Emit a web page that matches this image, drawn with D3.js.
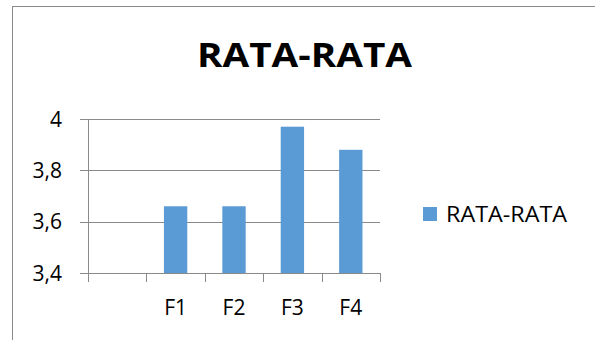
<!DOCTYPE html>
<html>
<head>
<meta charset="utf-8">
<script src="https://cdn.jsdelivr.net/npm/d3@7"></script>
<style>
  html, body { margin: 0; padding: 0; background: #fff; }
  svg { display: block; }
  text { font-family: "Open Sans", "Noto Sans", sans-serif; fill: #000; }
</style>
</head>
<body>
<script>
const categories = ["", "F1", "F2", "F3", "F4"];
const values = [null, 3.66, 3.66, 3.97, 3.88];
const yTicks = [3.4, 3.6, 3.8, 4];
const yTickLabels = ["3,4", "3,6", "3,8", "4"];
const seriesName = "RATA-RATA";
const title = "RATA-RATA";

const W = 595, H = 340;
const svg = d3.select("body").append("svg").attr("width", W).attr("height", H);

// outer chart border (only top and left visible)
svg.append("rect")
  .attr("x", 12.5).attr("y", 6.5)
  .attr("width", W + 20).attr("height", H + 20)
  .attr("fill", "none").attr("stroke", "#8a8a8a").attr("stroke-width", 1);

const plot = { left: 88, right: 380, top: 119, bottom: 273 };

const x = d3.scaleBand().domain(categories)
  .range([plot.left, plot.right]).paddingInner(0.6).paddingOuter(0.3);
const y = d3.scaleLinear().domain([3.4, 4]).range([plot.bottom, plot.top]);

const gridColor = "#8a8a8a";

// gridlines
svg.append("g").selectAll("line").data(yTicks).join("line")
  .attr("x1", plot.left - 8).attr("x2", plot.right)
  .attr("y1", d => Math.round(y(d)) + 0.5).attr("y2", d => Math.round(y(d)) + 0.5)
  .attr("stroke", gridColor).attr("stroke-width", 1);

// y axis line
svg.append("line")
  .attr("x1", plot.left + 0.5).attr("x2", plot.left + 0.5)
  .attr("y1", y(4)).attr("y2", plot.bottom + 8)
  .attr("stroke", gridColor);

// y labels
svg.append("g").selectAll("text").data(yTicks).join("text")
  .attr("x", 62).attr("y", d => y(d)).attr("dy", "0.36em")
  .attr("text-anchor", "end").attr("font-size", 21)
  .text((d, i) => yTickLabels[i]);

// x category boundary ticks
const gap = (x.step() - x.bandwidth()) / 2;
const bounds = categories.map(c => x(c) - gap).concat([x(categories[categories.length - 1]) + x.bandwidth() + gap]);
svg.append("g").selectAll("line").data(bounds).join("line")
  .attr("x1", d => Math.round(d) + 0.5).attr("x2", d => Math.round(d) + 0.5)
  .attr("y1", plot.bottom).attr("y2", plot.bottom + 9)
  .attr("stroke", gridColor);

// bars
svg.append("g").selectAll("rect").data(categories.map((c, i) => ({ c, v: values[i] })).filter(d => d.v != null))
  .join("rect")
  .attr("x", d => x(d.c)).attr("width", x.bandwidth())
  .attr("y", d => y(d.v)).attr("height", d => y(3.4) - y(d.v))
  .attr("fill", "#5b9bd5");

// x labels
svg.append("g").selectAll("text").data(categories).join("text")
  .attr("x", d => x(d) + x.bandwidth() / 2).attr("y", 315)
  .attr("text-anchor", "middle").attr("font-size", 21)
  .text(d => d);

// x axis line
svg.append("line")
  .attr("x1", plot.left - 8).attr("x2", plot.right)
  .attr("y1", plot.bottom + 0.5).attr("y2", plot.bottom + 0.5)
  .attr("stroke", gridColor);

// title
svg.append("text")
  .attr("x", 304.5).attr("y", 67)
  .attr("text-anchor", "middle").attr("font-size", 34).attr("font-weight", "bold")
  .attr("textLength", 215).attr("lengthAdjust", "spacingAndGlyphs")
  .text(title);

// legend
svg.append("rect").attr("x", 423).attr("y", 207).attr("width", 14).attr("height", 14).attr("fill", "#5b9bd5");
svg.append("text").attr("x", 446).attr("y", 222)
  .attr("font-size", 21.5)
  .attr("textLength", 121).attr("lengthAdjust", "spacingAndGlyphs")
  .text(seriesName);
</script>
</body>
</html>
